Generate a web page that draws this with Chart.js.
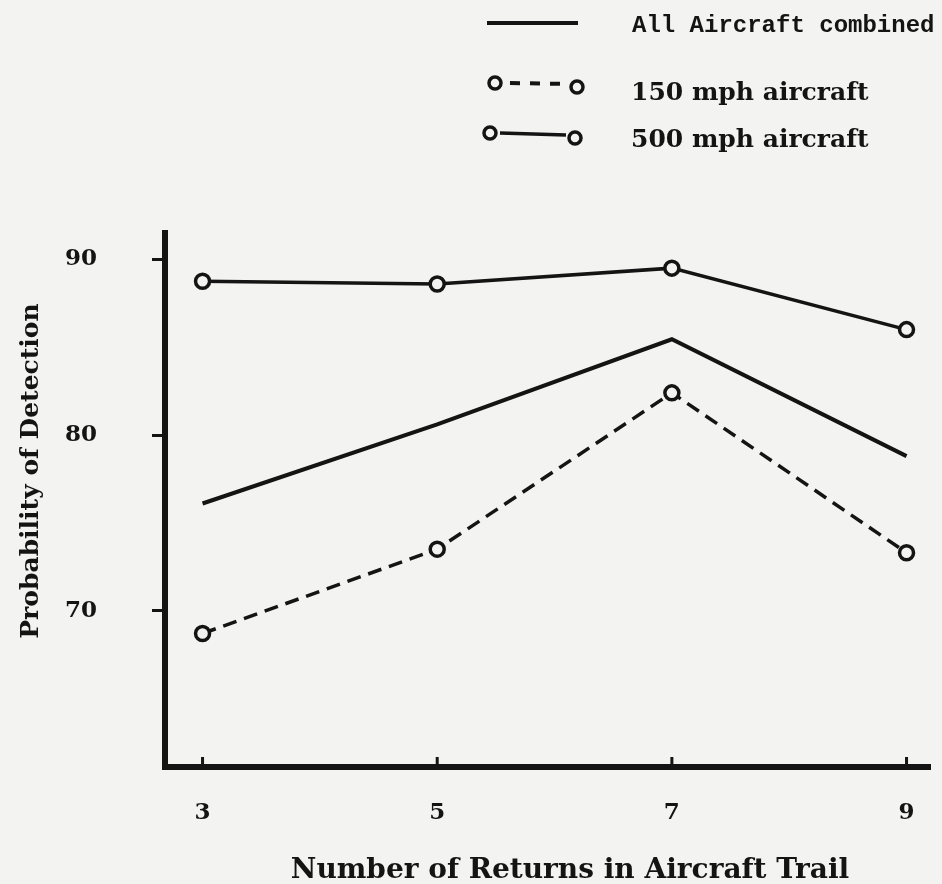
<!DOCTYPE html>
<html><head><meta charset="utf-8">
<script src="https://cdn.jsdelivr.net/npm/chart.js@4.4.1/dist/chart.umd.min.js"></script>
<style>
html,body{margin:0;padding:0;background:#f3f3f1;}
#wrap{width:942px;height:884px;position:relative;}
</style>
</head><body>
<div id="wrap"><canvas id="c" width="942" height="884"></canvas></div>
<script>
// ---- data ----
const returnsInTrail = [3, 5, 7, 9];
const allAircraftCombined = [76.1, 80.6, 85.45, 78.8];
const mph150Aircraft = [68.7, 73.5, 82.4, 73.3];
const mph500Aircraft = [88.75, 88.6, 89.5, 86.0];
const xTickValues = [3, 5, 7, 9];
const yTickValues = [70, 80, 90];
const seriesNames = ['All Aircraft combined', '150 mph aircraft', '500 mph aircraft'];
const xAxisTitle = 'Number of Returns in Aircraft Trail';
const yAxisTitle = 'Probability of Detection';

const INK = '#141414';
const PAPER = '#f3f3f1';
const SERIF = '"DejaVu Serif", serif';
const MONO = '"Liberation Mono", monospace';

const toPts = arr => returnsInTrail.map((x, i) => ({x: x, y: arr[i]}));

const decorPlugin = {
  id: 'decor',
  beforeDraw(chart) {
    const ctx = chart.ctx;
    ctx.save();
    ctx.fillStyle = PAPER;
    ctx.fillRect(0, 0, chart.width, chart.height);
    ctx.restore();
  },
  afterDraw(chart) {
    const ctx = chart.ctx;
    const xs = chart.scales.x, ys = chart.scales.y;
    ctx.save();
    // inward x tick marks
    ctx.strokeStyle = INK; ctx.lineWidth = 3; ctx.lineCap = 'butt';
    xTickValues.forEach(v => {
      const px = xs.getPixelForValue(v);
      ctx.beginPath(); ctx.moveTo(px, ys.bottom); ctx.lineTo(px, ys.bottom - 10); ctx.stroke();
    });
    // axis titles
    ctx.fillStyle = INK;
    ctx.textAlign = 'center'; ctx.textBaseline = 'alphabetic';
    ctx.font = 'bold 28px ' + SERIF;
    ctx.fillText(xAxisTitle, 570, 878);
    ctx.save();
    ctx.font = 'bold 25px ' + SERIF;
    ctx.translate(38, 471);
    ctx.rotate(-Math.PI / 2);
    ctx.fillText(yAxisTitle, 0, 0);
    ctx.restore();
    // legend
    ctx.textAlign = 'left';
    // item 1: plain solid line
    ctx.lineWidth = 4; ctx.setLineDash([]);
    ctx.beginPath(); ctx.moveTo(487, 23); ctx.lineTo(578, 23); ctx.stroke();
    ctx.font = 'bold 24px ' + MONO;
    ctx.fillText(seriesNames[0], 632, 32);
    // item 2: circles + dashed
    const circ = (x, y) => {
      ctx.setLineDash([]); ctx.lineWidth = 3.5;
      ctx.beginPath(); ctx.arc(x, y, 6, 0, Math.PI * 2);
      ctx.fillStyle = PAPER; ctx.fill(); ctx.stroke(); ctx.fillStyle = INK;
    };
    ctx.lineWidth = 4; ctx.setLineDash([10, 10]);
    ctx.beginPath(); ctx.moveTo(510, 83); ctx.lineTo(569, 84); ctx.stroke();
    circ(495, 83); circ(577, 87);
    ctx.font = 'bold 25px ' + SERIF;
    ctx.fillText(seriesNames[1], 631, 100);
    // item 3: circles + solid
    ctx.setLineDash([]); ctx.lineWidth = 3.5;
    ctx.beginPath(); ctx.moveTo(500, 133); ctx.lineTo(566, 135); ctx.stroke();
    circ(490, 133); circ(575, 138);
    ctx.fillText(seriesNames[2], 631, 147);
    ctx.restore();
  }
};

new Chart(document.getElementById('c'), {
  type: 'line',
  data: {
    datasets: [
      {
        label: seriesNames[0], data: toPts(allAircraftCombined),
        borderColor: INK, borderWidth: 4, pointRadius: 0, fill: false, tension: 0, order: 3
      },
      {
        label: seriesNames[1], data: toPts(mph150Aircraft),
        borderColor: INK, borderWidth: 3.5, borderDash: [14, 8], fill: false, tension: 0,
        pointRadius: 7, pointBorderWidth: 3.5, pointBackgroundColor: PAPER, pointBorderColor: INK, order: 2
      },
      {
        label: seriesNames[2], data: toPts(mph500Aircraft),
        borderColor: INK, borderWidth: 3.5, fill: false, tension: 0,
        pointRadius: 7, pointBorderWidth: 3.5, pointBackgroundColor: PAPER, pointBorderColor: INK, order: 1
      }
    ]
  },
  options: {
    responsive: false,
    animation: false,
    devicePixelRatio: 1,
    layout: {padding: {left: 0, right: 12, top: 233, bottom: 0}},
    plugins: {legend: {display: false}, tooltip: {enabled: false}},
    scales: {
      x: {
        type: 'linear', min: 2.68, max: 9.2,
        afterBuildTicks: s => { s.ticks = xTickValues.map(v => ({value: v})); },
        afterFit: s => { s.height = 117; s.paddingLeft = 0; s.paddingRight = 0; },
        grid: {display: false, drawTicks: false},
        border: {display: true, color: INK, width: 6},
        ticks: {color: INK, font: {family: SERIF, size: 23, weight: 'bold'}, padding: 32,
                callback: v => String(v)}
      },
      y: {
        type: 'linear', min: 61.1, max: 91.5,
        afterBuildTicks: s => { s.ticks = yTickValues.map(v => ({value: v})); },
        afterFit: s => { s.width = 165; s.paddingTop = 0; s.paddingBottom = 0; },
        grid: {display: true, drawOnChartArea: false, drawTicks: true, tickLength: 13,
               lineWidth: 3, color: INK},
        border: {display: true, color: INK, width: 6},
        ticks: {color: INK, font: {family: SERIF, size: 23, weight: 'bold'}, padding: 55,
                callback: v => String(v)}
      }
    }
  },
  plugins: [decorPlugin]
});
</script>
</body></html>
